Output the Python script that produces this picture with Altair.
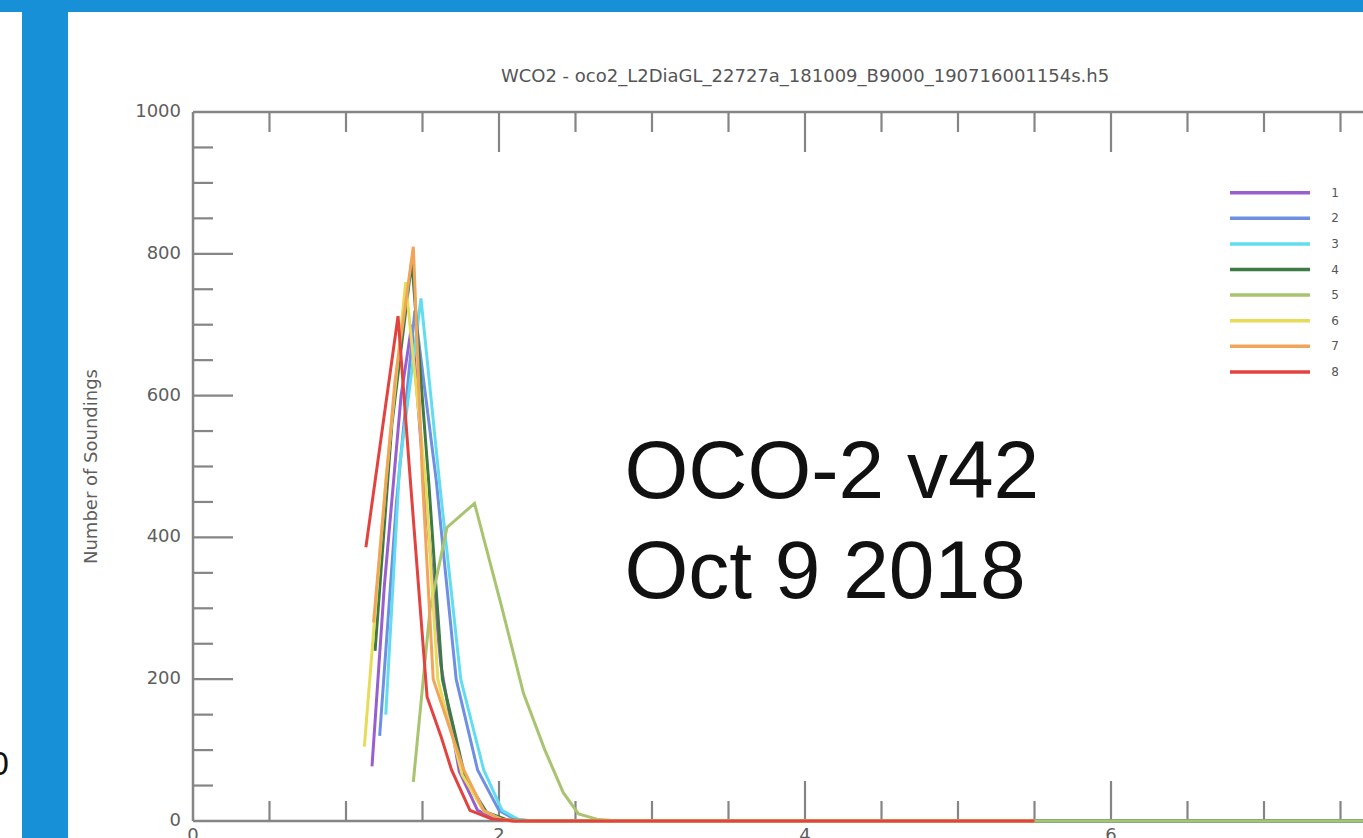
import altair as alt
import pandas as pd

# ---- data: number of soundings per XCO2-difference bin, one series per footprint
FOOTPRINTS = ["1", "2", "3", "4", "5", "6", "7", "8"]
COLORS = ["#9a5fcf", "#6f8fe0", "#62dcef", "#3d7a45", "#a9c46e", "#e6dc58", "#f2a55a", "#e2433f"]

FP1_X = [1.17, 1.25, 1.36, 1.43, 1.52, 1.62, 1.74, 1.86, 1.98, 2.10, 8.0]
FP1_Y = [77, 330, 600, 700, 450, 220, 70, 15, 3, 0, 0]
FP2_X = [1.22, 1.33, 1.45, 1.59, 1.72, 1.86, 2.00, 2.10, 2.20, 8.0]
FP2_Y = [120, 450, 720, 480, 200, 72, 15, 3, 0, 0]
FP3_X = [1.26, 1.35, 1.49, 1.61, 1.75, 1.90, 2.02, 2.12, 2.22, 8.0]
FP3_Y = [150, 500, 737, 480, 200, 72, 15, 3, 0, 0]
FP4_X = [1.19, 1.30, 1.43, 1.54, 1.63, 1.78, 1.92, 2.05, 2.20, 8.0]
FP4_Y = [240, 560, 790, 480, 200, 60, 12, 2, 0, 0]
FP5_X = [1.44, 1.55, 1.66, 1.84, 2.02, 2.16, 2.30, 2.42, 2.52, 2.65, 2.80, 8.0]
FP5_Y = [55, 300, 414, 448, 300, 180, 100, 40, 10, 2, 0, 0]
FP6_X = [1.12, 1.26, 1.39, 1.52, 1.60, 1.76, 1.90, 2.02, 2.15, 5.5]
FP6_Y = [105, 480, 760, 480, 200, 65, 14, 2, 0, 0]
FP7_X = [1.18, 1.32, 1.44, 1.50, 1.57, 1.77, 1.90, 2.00, 2.10, 5.5]
FP7_Y = [280, 620, 810, 480, 200, 72, 15, 3, 0, 0]
FP8_X = [1.13, 1.34, 1.41, 1.53, 1.62, 1.69, 1.81, 1.95, 2.10, 5.5]
FP8_Y = [386, 712, 510, 175, 120, 72, 15, 3, 0, 0]

SERIES_X = [FP1_X, FP2_X, FP3_X, FP4_X, FP5_X, FP6_X, FP7_X, FP8_X]
SERIES_Y = [FP1_Y, FP2_Y, FP3_Y, FP4_Y, FP5_Y, FP6_Y, FP7_Y, FP8_Y]

X_LABELS = [0, 2, 4, 6, 8]
Y_LABELS = [0, 200, 400, 600, 800, 1000]
X_TICKS = [0.5, 1.0, 1.5, 2.0, 2.5, 3.0, 3.5, 4.0, 4.5, 5.0, 5.5, 6.0, 6.5, 7.0, 7.5, 8.0]
Y_TICKS = [50, 100, 150, 200, 250, 300, 350, 400, 450, 500, 550, 600, 650, 700,
           750, 800, 850, 900, 950, 1000]

TITLE = "WCO2 - oco2_L2DiaGL_22727a_181009_B9000_190716001154s.h5"
Y_TITLE = "Number of Soundings"
NOTE_TEXT = ["OCO-2 v42", "Oct 9 2018"]
NOTE_Y = [456, 315]
NOTE_X = 2.82

# ---- layout / style
W, H = 1170, 709
X_RANGE = 1224          # pixels spanned by x = 0..8 (right part runs past the page)
AXIS = "#858585"
TXT = "#5e5e5e"
FONT = "DejaVu Sans"
BLUE = "#1890d8"

rows = []
for fp, xs_, ys_ in zip(FOOTPRINTS, SERIES_X, SERIES_Y):
    for i, (a, b) in enumerate(zip(xs_, ys_)):
        rows.append({"fp": fp, "x": a, "y": b, "i": i})
df = pd.DataFrame(rows)

xs = alt.Scale(domain=[0, 8], range=[0, X_RANGE], nice=False, zero=False)
ys = alt.Scale(domain=[0, 1000], nice=False)
cs = alt.Scale(domain=FOOTPRINTS, range=COLORS)

one = pd.DataFrame({"k": [0]})

# slide frame around the plot
frame_side = alt.Chart(one).mark_rect(color=BLUE).encode(
    x=alt.value(-171), x2=alt.value(-125), y=alt.value(-112), y2=alt.value(H + 17))
frame_top = alt.Chart(one).mark_rect(color=BLUE).encode(
    x=alt.value(-193), x2=alt.value(W), y=alt.value(-112), y2=alt.value(-100))
stray = alt.Chart(one).mark_text(align="right", baseline="middle", font="Liberation Sans",
                                 fontSize=34, color="#111").encode(
    x=alt.value(-184), y=alt.value(653), text=alt.value("0"))

# histogram lines
lines = alt.Chart(df).mark_line(strokeWidth=3, clip=False).encode(
    x=alt.X("x:Q", scale=xs, axis=None),
    y=alt.Y("y:Q", scale=ys, axis=None),
    color=alt.Color("fp:N", scale=cs, legend=None),
    order="i:Q",
)

# ---- IDL-style box axes: lines, inward ticks, labels
box = pd.DataFrame({"x0": [0.0], "x1": [8.0], "y0": [0], "y1": [1000]})
left_line = alt.Chart(box).mark_rule(color=AXIS, strokeWidth=2.5).encode(
    x=alt.X("x0:Q", scale=xs, axis=None), y=alt.Y("y0:Q", scale=ys, axis=None), y2="y1:Q")
bottom_line = alt.Chart(box).mark_rule(color=AXIS, strokeWidth=2.5).encode(
    x=alt.X("x0:Q", scale=xs, axis=None), x2="x1:Q", y=alt.Y("y0:Q", scale=ys, axis=None))
top_line = alt.Chart(box).mark_rule(color=AXIS, strokeWidth=2.5).encode(
    x=alt.X("x0:Q", scale=xs, axis=None), x2="x1:Q", y=alt.Y("y1:Q", scale=ys, axis=None))

yt = pd.DataFrame({"v": Y_TICKS})
yt["major"] = yt["v"] % 200 == 0
xt = pd.DataFrame({"v": X_TICKS})
xt["major"] = xt["v"] % 2 == 0


def yticks(major):
    d = yt[yt["major"] == major]
    return alt.Chart(d).mark_rule(color=AXIS, strokeWidth=2.2).encode(
        y=alt.Y("v:Q", scale=ys, axis=None), x=alt.value(0),
        x2=alt.value(40 if major else 20))


def xticks(major, top):
    d = xt[xt["major"] == major]
    n = 40 if major else 20
    y0, y1 = (0, n) if top else (H, H - n)
    return alt.Chart(d).mark_rule(color=AXIS, strokeWidth=2.2).encode(
        x=alt.X("v:Q", scale=xs, axis=None), y=alt.value(y0), y2=alt.value(y1))


ylab = alt.Chart(pd.DataFrame({"v": Y_LABELS})).mark_text(
    font=FONT, fontSize=18, color=TXT, align="right", baseline="middle").encode(
    y=alt.Y("v:Q", scale=ys, axis=None), x=alt.value(-12), text="v:Q")
xlab = alt.Chart(pd.DataFrame({"v": X_LABELS})).mark_text(
    font=FONT, fontSize=18, color=TXT, align="center", baseline="top").encode(
    x=alt.X("v:Q", scale=xs, axis=None), y=alt.value(H + 6), text="v:Q")
ytitle = alt.Chart(pd.DataFrame({"v": [500]})).mark_text(
    font=FONT, fontSize=18, color=TXT, align="center", baseline="middle", angle=270).encode(
    y=alt.Y("v:Q", scale=ys, axis=None), x=alt.value(-101), text=alt.value(Y_TITLE))

title = alt.Chart(pd.DataFrame({"cx": [4.0]})).mark_text(
    font=FONT, fontSize=18, color="#555555", baseline="middle", align="center").encode(
    x=alt.X("cx:Q", scale=xs, axis=None), y=alt.value(-35), text=alt.value(TITLE))

note = alt.Chart(pd.DataFrame({"t": NOTE_TEXT, "y": NOTE_Y, "x": [NOTE_X] * 2})).mark_text(
    font="Liberation Sans", fontSize=82, color="#111111", align="left",
    baseline="alphabetic").encode(
    x=alt.X("x:Q", scale=xs, axis=None), y=alt.Y("y:Q", scale=ys, axis=None), text="t:N")

# legend drawn as short line samples with footprint numbers
leg = pd.DataFrame({"fp": FOOTPRINTS, "row": list(range(len(FOOTPRINTS)))})
leg_lines = alt.Chart(leg).transform_calculate(ly="80.7 + datum.row * 25.6").mark_rule(
    strokeWidth=3.5).encode(
    y=alt.Y("ly:Q", scale=None), x=alt.value(1037), x2=alt.value(1117),
    color=alt.Color("fp:N", scale=cs, legend=None))
leg_text = alt.Chart(leg).transform_calculate(ly="80.7 + datum.row * 25.6").mark_text(
    font=FONT, fontSize=12, color="#555555", align="center", baseline="middle").encode(
    y=alt.Y("ly:Q", scale=None), x=alt.value(1142), text="fp:N")

chart = alt.layer(
    frame_side, frame_top, stray,
    yticks(True), yticks(False),
    xticks(True, False), xticks(False, False), xticks(True, True), xticks(False, True),
    left_line, bottom_line, top_line, ylab, xlab, ytitle,
    lines, title, note, leg_lines, leg_text,
).properties(
    width=W, height=H,
    autosize=alt.AutoSizeParams(type="none"),
    padding={"left": 193, "top": 112, "right": 0, "bottom": 17},
    background="white",
).configure_view(stroke=None)

chart.save("out.html", embed_options={"renderer": "svg", "actions": False})
